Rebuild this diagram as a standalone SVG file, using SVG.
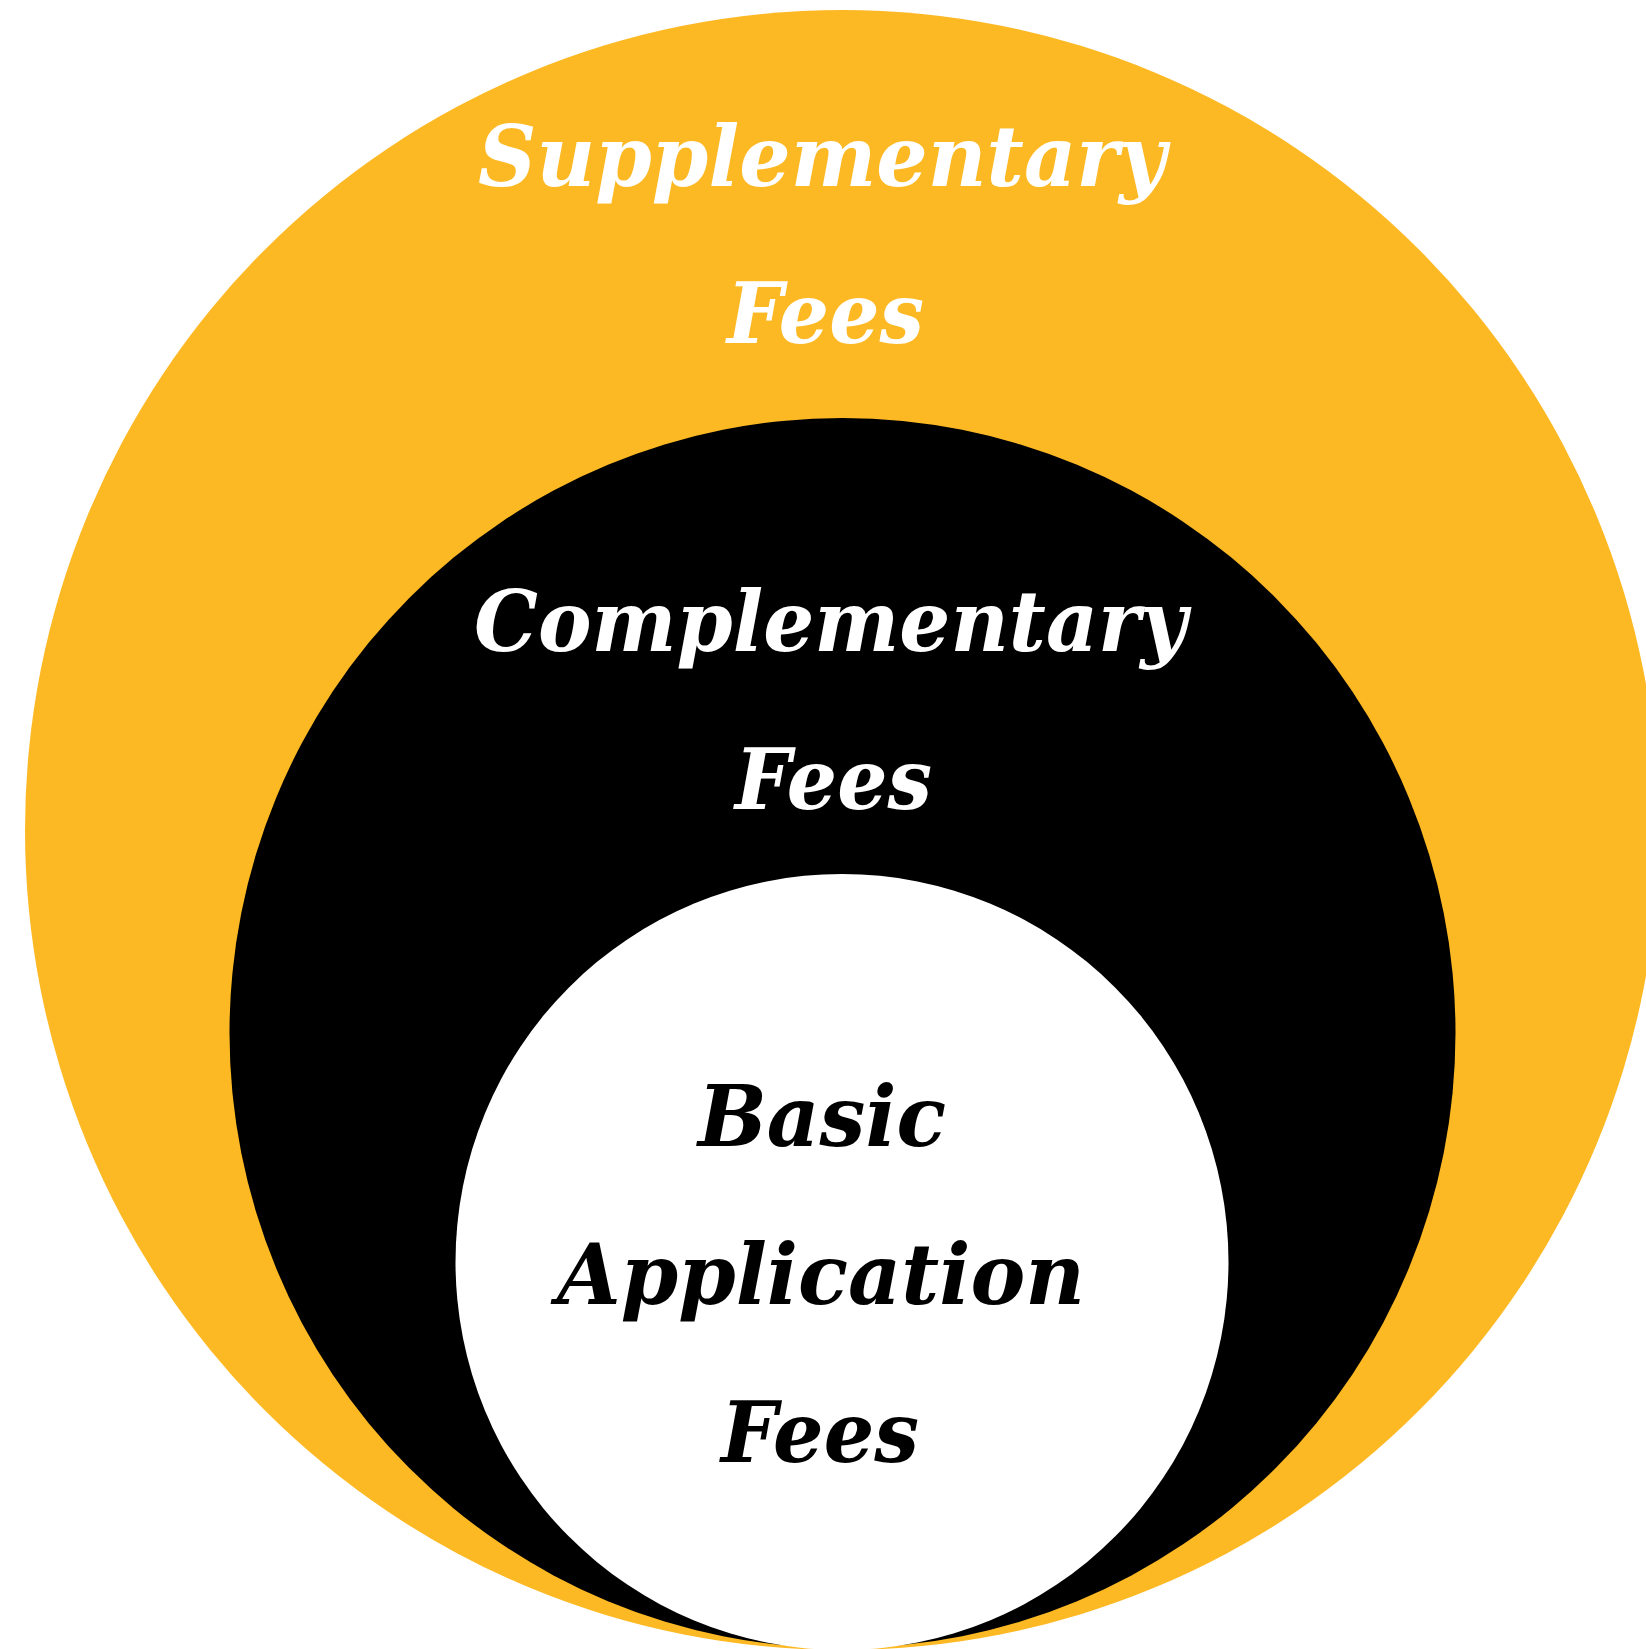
<svg xmlns="http://www.w3.org/2000/svg" width="1646" height="1649" viewBox="0 0 1646 1649">
<style>
.t{font-family:"DejaVu Serif","Liberation Serif",serif;font-weight:bold;font-style:italic;font-size:84px}
.w{fill:#ffffff}
.k{fill:#000000}
</style>
<rect width="1646" height="1649" fill="#ffffff"/>
<g id="supplementary">
<ellipse cx="842" cy="830" rx="817" ry="820" fill="#FDB924"/>
<text class="t w" x="478" y="186" textLength="688" lengthAdjust="spacingAndGlyphs">Supplementary</text>
<text class="t w" x="727" y="343" textLength="197" lengthAdjust="spacingAndGlyphs">Fees</text>
</g>
<g id="complementary">
<ellipse cx="842.5" cy="1033" rx="613" ry="615" fill="#000000"/>
<text class="t w" x="474" y="651" textLength="713" lengthAdjust="spacingAndGlyphs">Complementary</text>
<text class="t w" x="735" y="809" textLength="197" lengthAdjust="spacingAndGlyphs">Fees</text>
</g>
<g id="basic">
<ellipse cx="842" cy="1262" rx="386.5" ry="388" fill="#ffffff"/>
<text class="t k" x="698" y="1146" textLength="248" lengthAdjust="spacingAndGlyphs">Basic</text>
<text class="t k" x="557" y="1304" textLength="528" lengthAdjust="spacingAndGlyphs">Application</text>
<text class="t k" x="721" y="1462" textLength="198" lengthAdjust="spacingAndGlyphs">Fees</text>
</g>
<g id="connectors"/>
</svg>
